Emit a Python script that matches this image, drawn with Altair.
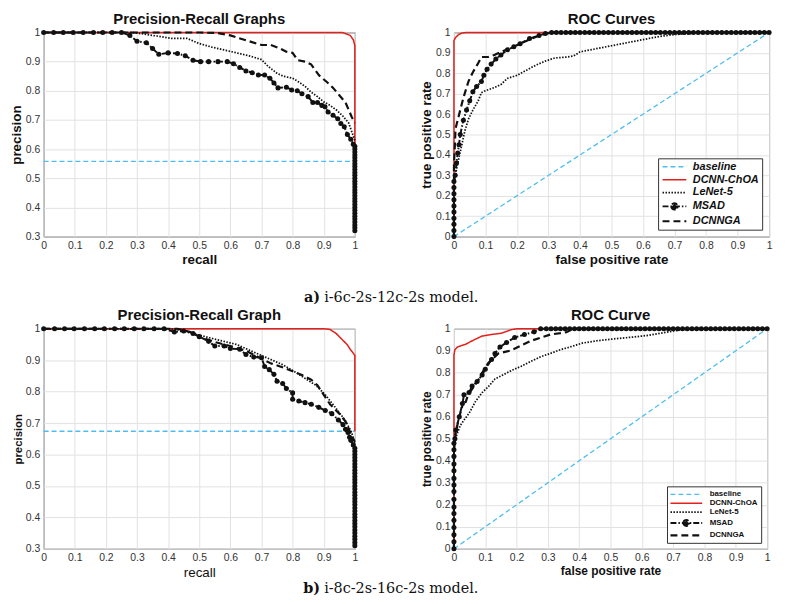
import altair as alt
import pandas as pd

# ---------------- categories, ticks, texts ----------------
SERIES = ["baseline", "DCNN-ChOA", "LeNet-5", "MSAD", "DCNNGA"]
TICKS_01 = [0.0, 0.1, 0.2, 0.3, 0.4, 0.5, 0.6, 0.7, 0.8, 0.9, 1.0]
TICKS_PR = [0.3, 0.4, 0.5, 0.6, 0.7, 0.8, 0.9, 1.0]

TITLE_A_PR = "Precision-Recall Graphs"
TITLE_A_ROC = "ROC Curves"
TITLE_B_PR = "Precision-Recall Graph"
TITLE_B_ROC = "ROC Curve"
CAPTION_A = ["a)", "i-6c-2s-12c-2s model."]
CAPTION_B = ["b)", "i-8c-2s-16c-2s model."]

# ---------------- a) precision-recall ----------------
A_PR_BASE_R = [0.0, 1.0]
A_PR_BASE_P = [0.558, 0.558]
A_PR_CHOA_R = [0.0, 0.90, 0.96, 0.985, 0.995, 1.0, 1.0, 1.0]
A_PR_CHOA_P = [1.0, 1.0, 1.0, 0.99, 0.975, 0.955, 0.80, 0.617]
A_PR_LENET_R = [0.0, 0.28, 0.32, 0.35, 0.41, 0.46, 0.50, 0.54, 0.58, 0.62, 0.66, 0.70, 0.72, 0.75,
                0.77, 0.80, 0.82, 0.84, 0.86, 0.88, 0.90, 0.92, 0.94, 0.96, 0.98, 0.99, 1.0]
A_PR_LENET_P = [1.0, 1.0, 0.995, 0.99, 0.98, 0.98, 0.962, 0.95, 0.94, 0.93, 0.92, 0.907, 0.885, 0.86,
                0.85, 0.843, 0.83, 0.815, 0.795, 0.78, 0.762, 0.75, 0.735, 0.715, 0.69, 0.66, 0.63]
A_PR_MSAD_R = [0.0, 0.032, 0.063, 0.095, 0.127, 0.16, 0.19, 0.22, 0.25, 0.277, 0.30, 0.33, 0.35,
               0.37, 0.40, 0.43, 0.455, 0.48, 0.504, 0.53, 0.56, 0.59, 0.61, 0.63, 0.65, 0.67, 0.69,
               0.71, 0.727, 0.74, 0.753, 0.78, 0.797, 0.815, 0.83, 0.85, 0.865, 0.88, 0.894, 0.904,
               0.914, 0.93, 0.945, 0.955, 0.966, 0.976, 0.987, 0.995,
               1.0, 1.0, 1.0, 1.0, 1.0, 1.0, 1.0, 1.0, 1.0, 1.0, 1.0, 1.0, 1.0, 1.0, 1.0,
               1.0, 1.0, 1.0, 1.0, 1.0, 1.0, 1.0, 1.0, 1.0, 1.0, 1.0, 1.0, 1.0, 1.0, 1.0]
A_PR_MSAD_P = [1.0, 1.0, 1.0, 1.0, 1.0, 1.0, 1.0, 1.0, 1.0, 0.99, 0.97, 0.965, 0.945,
               0.925, 0.93, 0.928, 0.92, 0.905, 0.90, 0.90, 0.90, 0.90, 0.893, 0.88, 0.868, 0.862, 0.854,
               0.854, 0.843, 0.827, 0.81, 0.812, 0.803, 0.80, 0.79, 0.78, 0.76, 0.76, 0.75, 0.745,
               0.727, 0.716, 0.704, 0.688, 0.677, 0.65, 0.634, 0.617,
               0.61, 0.60, 0.59, 0.58, 0.57, 0.56, 0.55, 0.54, 0.53, 0.52, 0.51, 0.50, 0.49, 0.48, 0.47,
               0.46, 0.45, 0.44, 0.43, 0.42, 0.41, 0.40, 0.39, 0.38, 0.37, 0.36, 0.35, 0.34, 0.33, 0.32]
A_PR_GA_R = [0.0, 0.50, 0.56, 0.60, 0.62, 0.66, 0.70, 0.73, 0.76, 0.78, 0.80, 0.816, 0.84, 0.86,
             0.885, 0.91, 0.93, 0.95, 0.97, 0.99, 1.0]
A_PR_GA_P = [1.0, 1.0, 0.998, 0.99, 0.983, 0.97, 0.957, 0.957, 0.945, 0.934, 0.93, 0.905, 0.90, 0.89,
             0.853, 0.83, 0.81, 0.785, 0.76, 0.71, 0.69]

# ---------------- a) ROC ----------------
A_ROC_BASE_F = [0.0, 1.0]
A_ROC_BASE_T = [0.0, 1.0]
A_ROC_CHOA_F = [0.0, 0.0, 0.005, 0.015, 0.025, 0.04, 1.0]
A_ROC_CHOA_T = [0.0, 0.96, 0.975, 0.99, 0.997, 1.0, 1.0]
A_ROC_LENET_F = [0.0, 0.0, 0.008, 0.015, 0.025, 0.035, 0.046, 0.06, 0.077, 0.087, 0.097, 0.128, 0.149,
                 0.17, 0.2, 0.23, 0.26, 0.29, 0.32, 0.36, 0.38, 0.4, 0.45, 0.5, 0.55, 0.6, 0.65, 0.7,
                 0.8, 1.0]
A_ROC_LENET_T = [0.0, 0.25, 0.33, 0.38, 0.45, 0.52, 0.575, 0.62, 0.665, 0.705, 0.713, 0.73, 0.745,
                 0.775, 0.79, 0.815, 0.84, 0.86, 0.875, 0.88, 0.885, 0.905, 0.92, 0.935, 0.95, 0.965,
                 0.98, 0.99, 1.0, 1.0]
A_ROC_MSAD_F = [0.0, 0.0, 0.0, 0.0, 0.0, 0.0, 0.0, 0.0, 0.0, 0.0,
                0.004, 0.008, 0.012, 0.016, 0.02, 0.03, 0.04, 0.05, 0.06, 0.072, 0.087, 0.095, 0.105,
                0.118, 0.133, 0.149, 0.17, 0.19, 0.21, 0.24, 0.27, 0.29,
                0.31, 0.325, 0.34, 0.355, 0.37, 0.385, 0.40, 0.415, 0.43, 0.445, 0.46, 0.475, 0.49,
                0.505, 0.52, 0.535, 0.55, 0.565, 0.58, 0.595, 0.61, 0.625, 0.64, 0.655, 0.67, 0.685,
                0.70, 0.715, 0.73, 0.745, 0.76, 0.775, 0.79, 0.805, 0.82, 0.835, 0.85, 0.865, 0.88,
                0.895, 0.91, 0.925, 0.94, 0.955, 0.97, 0.985, 1.0]
A_ROC_MSAD_T = [0.0, 0.03, 0.06, 0.09, 0.12, 0.15, 0.18, 0.21, 0.24, 0.27,
                0.30, 0.36, 0.41, 0.45, 0.50, 0.57, 0.62, 0.665, 0.71, 0.735, 0.76, 0.79, 0.82,
                0.845, 0.87, 0.89, 0.915, 0.93, 0.945, 0.97, 0.985, 0.995,
                1.0, 1.0, 1.0, 1.0, 1.0, 1.0, 1.0, 1.0, 1.0, 1.0, 1.0, 1.0, 1.0,
                1.0, 1.0, 1.0, 1.0, 1.0, 1.0, 1.0, 1.0, 1.0, 1.0, 1.0, 1.0, 1.0,
                1.0, 1.0, 1.0, 1.0, 1.0, 1.0, 1.0, 1.0, 1.0, 1.0, 1.0, 1.0, 1.0,
                1.0, 1.0, 1.0, 1.0, 1.0, 1.0, 1.0, 1.0]
A_ROC_GA_F = [0.0, 0.0, 0.003, 0.005, 0.015, 0.03, 0.046, 0.06, 0.077, 0.087, 0.108, 0.128, 0.15,
              0.18, 0.21, 0.24, 0.27, 0.30, 0.33, 1.0]
A_ROC_GA_T = [0.0, 0.35, 0.45, 0.53, 0.59, 0.68, 0.76, 0.805, 0.85, 0.88, 0.88, 0.89, 0.905, 0.925,
              0.945, 0.965, 0.985, 0.997, 1.0, 1.0]

# ---------------- b) precision-recall ----------------
B_PR_BASE_R = [0.0, 1.0]
B_PR_BASE_P = [0.674, 0.674]
B_PR_CHOA_R = [0.0, 0.90, 0.92, 0.94, 0.955, 0.965, 0.975, 0.985, 0.993, 1.0, 1.0]
B_PR_CHOA_P = [1.0, 1.0, 0.998, 0.985, 0.97, 0.96, 0.95, 0.935, 0.925, 0.915, 0.674]
B_PR_LENET_R = [0.0, 0.40, 0.45, 0.50, 0.55, 0.62, 0.70, 0.77, 0.82, 0.875, 0.905, 0.937, 0.968,
                0.99, 1.0]
B_PR_LENET_P = [1.0, 1.0, 0.995, 0.98, 0.967, 0.95, 0.915, 0.885, 0.855, 0.82, 0.79, 0.75, 0.71,
                0.67, 0.63]
B_PR_MSAD_R = [0.0, 0.035, 0.067, 0.098, 0.131, 0.164, 0.195, 0.228, 0.259, 0.291, 0.322, 0.355,
               0.387, 0.42, 0.45, 0.48, 0.50, 0.53, 0.55, 0.58, 0.60, 0.63, 0.65, 0.675, 0.70, 0.71,
               0.725, 0.74, 0.75, 0.768, 0.78, 0.80, 0.80, 0.82, 0.84, 0.86, 0.884, 0.905, 0.926,
               0.947, 0.962, 0.97, 0.978, 0.983, 0.987, 0.995,
               1.0, 1.0, 1.0, 1.0, 1.0, 1.0, 1.0, 1.0, 1.0, 1.0, 1.0, 1.0, 1.0, 1.0, 1.0, 1.0,
               1.0, 1.0, 1.0, 1.0, 1.0, 1.0, 1.0, 1.0, 1.0, 1.0, 1.0, 1.0, 1.0, 1.0, 1.0, 1.0]
B_PR_MSAD_P = [1.0, 1.0, 1.0, 1.0, 1.0, 1.0, 1.0, 1.0, 1.0, 1.0, 1.0, 1.0,
               1.0, 0.99, 0.993, 0.985, 0.975, 0.96, 0.945, 0.945, 0.937, 0.935, 0.918, 0.91, 0.908,
               0.88, 0.87, 0.855, 0.833, 0.826, 0.81, 0.796, 0.776, 0.77, 0.765, 0.76, 0.75, 0.74,
               0.73, 0.71, 0.695, 0.68, 0.67, 0.655, 0.645, 0.63,
               0.62, 0.61, 0.60, 0.59, 0.58, 0.57, 0.56, 0.55, 0.54, 0.53, 0.52, 0.51, 0.50, 0.49,
               0.48, 0.47, 0.46, 0.45, 0.44, 0.43, 0.42, 0.41, 0.40, 0.39, 0.38, 0.37, 0.36, 0.35,
               0.34, 0.33, 0.32, 0.31]
B_PR_GA_R = [0.0, 0.43, 0.47, 0.50, 0.55, 0.60, 0.65, 0.70, 0.73, 0.76, 0.80, 0.83, 0.86, 0.88,
             0.90, 0.92, 0.95, 0.97, 0.99, 1.0]
B_PR_GA_P = [1.0, 1.0, 0.99, 0.975, 0.958, 0.945, 0.93, 0.905, 0.89, 0.88, 0.865, 0.853, 0.838,
             0.82, 0.79, 0.76, 0.73, 0.705, 0.66, 0.64]

# ---------------- b) ROC ----------------
B_ROC_BASE_F = [0.0, 1.0]
B_ROC_BASE_T = [0.0, 1.0]
B_ROC_CHOA_F = [0.0, 0.0, 0.003, 0.011, 0.0375, 0.069, 0.09, 0.12, 0.152, 0.183, 0.2, 1.0]
B_ROC_CHOA_T = [0.0, 0.88, 0.905, 0.917, 0.93, 0.953, 0.967, 0.974, 0.98, 0.996, 1.0, 1.0]
B_ROC_LENET_F = [0.0, 0.0, 0.005, 0.012, 0.02, 0.032, 0.048, 0.069, 0.09, 0.11, 0.131, 0.152,
                 0.183, 0.215, 0.246, 0.277, 0.308, 0.34, 0.37, 0.41, 0.455, 0.517, 0.57, 0.62,
                 0.70, 0.75, 1.0]
B_ROC_LENET_T = [0.0, 0.45, 0.50, 0.53, 0.56, 0.585, 0.615, 0.67, 0.71, 0.737, 0.772, 0.787, 0.81,
                 0.83, 0.852, 0.873, 0.888, 0.905, 0.917, 0.935, 0.945, 0.955, 0.962, 0.97, 0.99,
                 1.0, 1.0]
B_ROC_MSAD_F = [0.0, 0.0, 0.0, 0.0, 0.0, 0.0, 0.0, 0.0, 0.0, 0.0, 0.0, 0.0, 0.0, 0.0, 0.0, 0.0,
                0.003, 0.006, 0.017, 0.027, 0.032, 0.048, 0.058, 0.074, 0.09, 0.10, 0.12, 0.131,
                0.147, 0.168, 0.194, 0.225, 0.256, 0.277,
                0.295, 0.31, 0.325, 0.34, 0.355, 0.37, 0.385, 0.40, 0.415, 0.43, 0.445, 0.46,
                0.475, 0.49, 0.505, 0.52, 0.535, 0.55, 0.565, 0.58, 0.595, 0.61, 0.625, 0.64,
                0.655, 0.67, 0.685, 0.70, 0.715, 0.73, 0.745, 0.76, 0.775, 0.79, 0.805, 0.82,
                0.835, 0.85, 0.865, 0.88, 0.895, 0.91, 0.925, 0.94, 0.955, 0.97, 0.985, 1.0]
B_ROC_MSAD_T = [0.0, 0.032, 0.064, 0.097, 0.13, 0.16, 0.19, 0.225, 0.26, 0.29, 0.32, 0.355,
                0.385, 0.42, 0.45, 0.48,
                0.50, 0.54, 0.60, 0.66, 0.70, 0.71, 0.74, 0.76, 0.79, 0.816, 0.86, 0.888, 0.917,
                0.938, 0.96, 0.974, 0.986, 1.0,
                1.0, 1.0, 1.0, 1.0, 1.0, 1.0, 1.0, 1.0, 1.0, 1.0, 1.0, 1.0,
                1.0, 1.0, 1.0, 1.0, 1.0, 1.0, 1.0, 1.0, 1.0, 1.0, 1.0, 1.0,
                1.0, 1.0, 1.0, 1.0, 1.0, 1.0, 1.0, 1.0, 1.0, 1.0, 1.0, 1.0,
                1.0, 1.0, 1.0, 1.0, 1.0, 1.0, 1.0, 1.0, 1.0, 1.0, 1.0, 1.0]
B_ROC_GA_F = [0.0, 0.0, 0.005, 0.015, 0.025, 0.032, 0.0375, 0.045, 0.06, 0.075, 0.09, 0.11, 0.142,
              0.163, 0.183, 0.215, 0.246, 0.277, 0.308, 0.34, 0.36, 0.38, 1.0]
B_ROC_GA_T = [0.0, 0.45, 0.52, 0.59, 0.64, 0.68, 0.667, 0.70, 0.73, 0.76, 0.80, 0.845, 0.888,
              0.895, 0.902, 0.924, 0.945, 0.96, 0.974, 0.98, 0.985, 1.0, 1.0]

# ---------------- styles ----------------
FONT = "Liberation Sans, Arial, sans-serif"
SERIF = "DejaVu Serif"
COLORS = ["#4dbeee", "#e3201b", "#111111", "#111111", "#111111"]
DASHES = [[5, 3], [1, 0], [1.5, 1.5], [6, 2, 1.5, 2], [7, 4]]
WIDTHS = [1.3, 2.2, 1.5, 1.6, 2.0]
GRID = "#e2e2e2"
LBL = "#333333"


def circle(r):
    return "M-{r},0A{r},{r},0,1,0,{r},0A{r},{r},0,1,0,-{r},0".format(r=r)


def legend_shapes(half, rad):
    line = "M-{h},0L{h},0".format(h=half)
    dot = line + circle(rad) + circle(round(rad * 0.62, 3)) + circle(round(rad * 0.25, 3))
    return [line, line, line, dot, line]


# symbol unit: symbolSize 64 -> 4 px per path unit
SHAPES_A = legend_shapes(3.0, 0.8)
SHAPES_B = legend_shapes(4.0, 0.75)


def series_df(pairs):
    rows = []
    for name, xs, ys in pairs:
        for i, (x, y) in enumerate(zip(xs, ys)):
            rows.append({"series": name, "x": x, "y": y, "i": i})
    return pd.DataFrame(rows)


def make_axis(title, weight, size, values):
    return alt.Axis(title=title, values=values, format=".1~f", grid=True, gridColor=GRID,
                    gridWidth=1, domain=False, ticks=False, labelFont=FONT, labelFontSize=10.5,
                    labelColor=LBL, labelPadding=4, labelFlush=False, labelOverlap=False,
                    titleFont=FONT, titleFontSize=size, titleFontWeight=weight,
                    titleColor="#111111", titlePadding=2)


def make_legend(font_size, style, row_pad, sym_off, lab_off, off):
    return alt.Legend(
        title=None, orient="bottom-right", offset=off,
        symbolSize=64, symbolStrokeWidth=1.8, symbolOpacity=1, symbolOffset=sym_off,
        labelFont=FONT, labelFontSize=font_size,
        labelFontWeight="bold", labelFontStyle=style, labelColor="#111111",
        strokeColor="#333333", fillColor="white", padding=3, rowPadding=row_pad,
        labelOffset=lab_off,
    )


def panel(pairs, mx, my, ydom, yticks, title, xt, yt, xw, xs, yw, ys, w, h, legend, shapes):
    df = series_df(pairs)
    X = alt.X("x:Q", scale=alt.Scale(domain=[0, 1], nice=False, zero=False),
              axis=make_axis(xt, xw, xs, TICKS_01))
    Y = alt.Y("y:Q", scale=alt.Scale(domain=ydom, nice=False, zero=False),
              axis=make_axis(yt, yw, ys, yticks))
    cscale = alt.Scale(domain=SERIES, range=COLORS)
    dscale = alt.Scale(domain=SERIES, range=DASHES)
    lines = alt.Chart(df).mark_line(strokeJoin="round").encode(
        x=X, y=Y,
        color=alt.Color("series:N", scale=cscale, legend=legend),
        strokeDash=alt.StrokeDash("series:N", scale=dscale, legend=legend),
        strokeWidth=alt.StrokeWidth("series:N", scale=alt.Scale(domain=SERIES, range=WIDTHS),
                                    legend=None),
        order=alt.Order("i:Q"),
    )
    pts = alt.Chart(pd.DataFrame({"x": mx, "y": my})).mark_point(
        filled=True, shape="circle", size=26, color="#111111", opacity=1
    ).encode(x=X, y=Y)
    layers = [lines, pts]
    if legend is not None:
        # invisible carrier of the legend symbols (same data, zero opacity)
        leg = alt.Chart(df).mark_point(filled=False, strokeWidth=1.8, opacity=0).encode(
            x=X, y=Y,
            color=alt.Color("series:N", scale=cscale, legend=legend),
            strokeDash=alt.StrokeDash("series:N", scale=dscale, legend=legend),
            shape=alt.Shape("series:N", scale=alt.Scale(domain=SERIES, range=shapes),
                            legend=legend),
        )
        layers.append(leg)
    return alt.layer(*layers).properties(
        width=w, height=h,
        title=alt.TitleParams(title, font=FONT, fontSize=15, fontWeight="bold", color="#111111",
                              offset=1, anchor="middle", frame="group"),
    )


def caption(parts, h, yb, x0):
    df = pd.DataFrame({"t": parts, "k": [0, 1]})
    lab = alt.Chart(df).transform_filter("datum.k == 0").mark_text(
        font=SERIF, fontSize=14.5, fontWeight="bold", align="right", baseline="alphabetic",
        color="#111111").encode(text="t:N", x=alt.value(x0), y=alt.value(yb))
    rest = alt.Chart(df).transform_filter("datum.k == 1").mark_text(
        font=SERIF, fontSize=14.5, align="left", baseline="alphabetic", dx=4,
        color="#111111").encode(text="t:N", x=alt.value(x0), y=alt.value(yb))
    return alt.layer(lab, rest).properties(width=680, height=h,
                                           view=alt.ViewBackground(stroke="transparent"))


legA = make_legend(11, "italic", 1, 8, 13, 7)
legB = make_legend(8, "normal", 0, 11, 18, 6)

a_pr = panel([("baseline", A_PR_BASE_R, A_PR_BASE_P), ("DCNN-ChOA", A_PR_CHOA_R, A_PR_CHOA_P),
              ("LeNet-5", A_PR_LENET_R, A_PR_LENET_P), ("MSAD", A_PR_MSAD_R, A_PR_MSAD_P),
              ("DCNNGA", A_PR_GA_R, A_PR_GA_P)],
             A_PR_MSAD_R, A_PR_MSAD_P, [0.3, 1.0], TICKS_PR, TITLE_A_PR,
             "recall", "precision", "bold", 13.5, "bold", 13.5, 314, 206, None, None)
a_roc = panel([("baseline", A_ROC_BASE_F, A_ROC_BASE_T), ("DCNN-ChOA", A_ROC_CHOA_F, A_ROC_CHOA_T),
               ("LeNet-5", A_ROC_LENET_F, A_ROC_LENET_T), ("MSAD", A_ROC_MSAD_F, A_ROC_MSAD_T),
               ("DCNNGA", A_ROC_GA_F, A_ROC_GA_T)],
              A_ROC_MSAD_F, A_ROC_MSAD_T, [0.0, 1.0], TICKS_01, TITLE_A_ROC,
              "false positive rate", "true positive rate", "bold", 13.5, "bold", 13.5, 318, 206,
              legA, SHAPES_A)
b_pr = panel([("baseline", B_PR_BASE_R, B_PR_BASE_P), ("DCNN-ChOA", B_PR_CHOA_R, B_PR_CHOA_P),
              ("LeNet-5", B_PR_LENET_R, B_PR_LENET_P), ("MSAD", B_PR_MSAD_R, B_PR_MSAD_P),
              ("DCNNGA", B_PR_GA_R, B_PR_GA_P)],
             B_PR_MSAD_R, B_PR_MSAD_P, [0.3, 1.0], TICKS_PR, TITLE_B_PR,
             "recall", "precision", "normal", 13.5, "bold", 11.5, 314, 222, None, None)
b_roc = panel([("baseline", B_ROC_BASE_F, B_ROC_BASE_T), ("DCNN-ChOA", B_ROC_CHOA_F, B_ROC_CHOA_T),
               ("LeNet-5", B_ROC_LENET_F, B_ROC_LENET_T), ("MSAD", B_ROC_MSAD_F, B_ROC_MSAD_T),
               ("DCNNGA", B_ROC_GA_F, B_ROC_GA_T)],
              B_ROC_MSAD_F, B_ROC_MSAD_T, [0.0, 1.0], TICKS_01, TITLE_B_ROC,
              "false positive rate", "true positive rate", "bold", 12, "bold", 12, 316, 222,
              legB, SHAPES_B)

IND = dict(color="independent", strokeDash="independent", strokeWidth="independent",
           shape="independent")

row_a = alt.hconcat(a_pr, a_roc, spacing=60).resolve_scale(**IND)
row_b = alt.hconcat(b_pr, b_roc, spacing=61).resolve_scale(**IND)
cap_a = caption(CAPTION_A, 38, 34, 279)
cap_b = caption(CAPTION_B, 17, 13, 279)

chart = alt.vconcat(row_a, cap_a, row_b, cap_b, spacing=0).resolve_scale(**IND).properties(
    padding={"left": 0, "top": 0, "right": 0, "bottom": 0}
).configure(background="white").configure_view(stroke="#333333", strokeWidth=1)

chart.save("out.html", embed_options={"renderer": "svg", "actions": False})
